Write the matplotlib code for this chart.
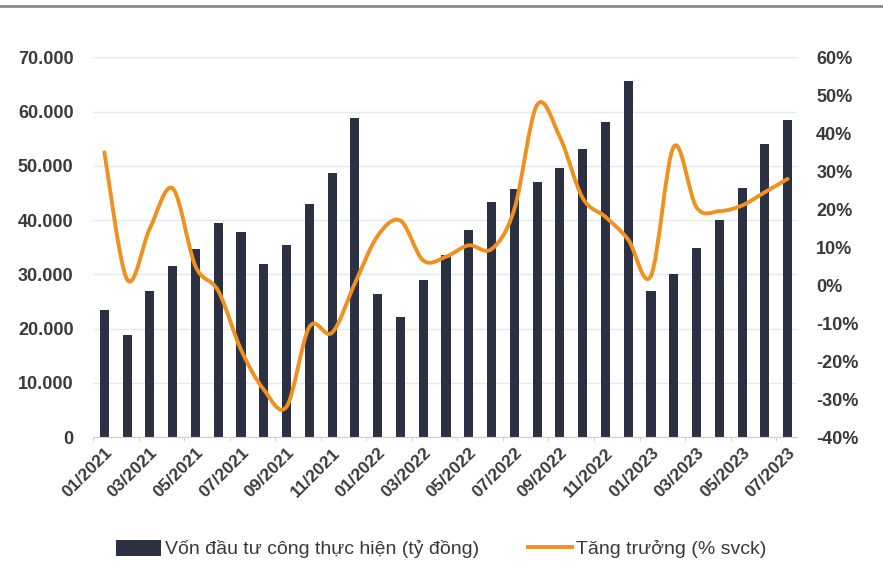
import numpy as np
import matplotlib
matplotlib.use('Agg')
from matplotlib import pyplot as plt
from matplotlib.path import Path
from matplotlib.patches import PathPatch, Patch
from matplotlib.lines import Line2D

# data: monthly values 01/2021 .. 07/2023
months = ['01/2021', '02/2021', '03/2021', '04/2021', '05/2021', '06/2021',
          '07/2021', '08/2021', '09/2021', '10/2021', '11/2021', '12/2021',
          '01/2022', '02/2022', '03/2022', '04/2022', '05/2022', '06/2022',
          '07/2022', '08/2022', '09/2022', '10/2022', '11/2022', '12/2022',
          '01/2023', '02/2023', '03/2023', '04/2023', '05/2023', '06/2023',
          '07/2023']
von_dau_tu = [23400, 18800, 26900, 31500, 34600, 39500, 37800, 31900, 35500,
              43000, 48700, 58800, 26300, 22100, 29000, 33500, 38100, 43300,
              45700, 47000, 49700, 53200, 58100, 65600, 27000, 30000, 34900,
              40100, 46000, 54100, 58400]
tang_truong = [35, 1.5, 15, 25.5, 5, -1.5, -17, -27.5, -32, -11, -12.5, 0.5,
               13, 17, 6.5, 7.5, 10.5, 9.5, 20, 47.5, 39, 23, 18, 12, 2.5,
               36.5, 20.5, 19.5, 21, 24.5, 28]
left_ticks = [0, 10000, 20000, 30000, 40000, 50000, 60000, 70000]
right_ticks = [-40, -30, -20, -10, 0, 10, 20, 30, 40, 50, 60]

bar_color = '#2b3142'
line_color = '#f0901e'
text_color = '#3a3a3a'
font = ['Liberation Sans', 'DejaVu Sans']

fig = plt.figure(figsize=(8.83, 5.76), dpi=100)
ax = fig.add_axes([0.1053, 0.2413, 0.797, 0.659])
ax2 = ax.twinx()

x = np.arange(len(months))
ax.bar(x, von_dau_tu, width=0.4, color=bar_color, zorder=2)
ax.set_xlim(-0.45, 30.4)
ax.set_ylim(0, 70000)
ax.set_yticks(left_ticks)
ax.set_yticklabels(['{:,}'.format(v).replace(',', '.') for v in left_ticks],
                   family=font, fontsize=13, fontweight='bold', color=text_color)
ax.grid(axis='y', color='#e6e9ec', linewidth=1, zorder=0)
ax.set_axisbelow(True)

# x ticks: label every other month, small marks at every second boundary
ax.set_xticks(x[::2])
ax.set_xticklabels(months[::2], rotation=45, ha='right', va='top',
                   rotation_mode='anchor', family=font, fontsize=12.5,
                   fontweight='bold', color=text_color)
ax.set_xticks(np.arange(-0.5, 31, 2), minor=True)
ax.tick_params(axis='x', which='major', length=0, pad=6)
ax.tick_params(axis='x', which='minor', length=3, color='#c8c8c8')
ax.tick_params(axis='y', length=0, pad=14)

for side in ['top', 'right', 'left']:
    ax.spines[side].set_visible(False)
    ax2.spines[side].set_visible(False)
ax.spines['bottom'].set_color('#d0d0d0')
ax2.spines['bottom'].set_visible(False)

# smoothed growth line (Excel style bezier through the points)
ax2.set_ylim(-40, 60)
ax2.set_yticks(right_ticks)
ax2.set_yticklabels(['{}%'.format(v) for v in right_ticks],
                    family=font, fontsize=13, fontweight='bold', color=text_color)
ax2.tick_params(axis='y', length=0, pad=14)

pts = np.column_stack([x, tang_truong]).astype(float)
verts = [tuple(pts[0])]
codes = [Path.MOVETO]
for i in range(len(pts) - 1):
    p0 = pts[i - 1] if i > 0 else pts[i]
    p1 = pts[i]
    p2 = pts[i + 1]
    p3 = pts[i + 2] if i + 2 < len(pts) else pts[i + 1]
    c1 = p1 + (p2 - p0) / 6.0
    c2 = p2 - (p3 - p1) / 6.0
    verts += [tuple(c1), tuple(c2), tuple(p2)]
    codes += [Path.CURVE4] * 3
curve = PathPatch(Path(verts, codes), facecolor='none', edgecolor=line_color,
                  linewidth=2.8, zorder=3, capstyle='round', joinstyle='round')
ax2.add_patch(curve)

handles = [Patch(facecolor=bar_color, label='Vốn đầu tư công thực hiện (tỷ đồng)'),
           Line2D([], [], color=line_color, linewidth=2.8, label='Tăng trưởng (% svck)')]
fig.legend(handles=handles, loc='center', bbox_to_anchor=(0.5, 0.047), ncol=2,
           frameon=False, prop={'family': font, 'size': 14},
           handlelength=2.3, handleheight=0.9, handletextpad=0.2,
           columnspacing=2.5, labelcolor=text_color)

# gray rule along the top of the picture
fig.add_artist(Line2D([0, 1], [0.990, 0.990], color='#8a8a8a', linewidth=2,
                      transform=fig.transFigure))

fig.savefig('out.png', dpi=100, facecolor='white')
